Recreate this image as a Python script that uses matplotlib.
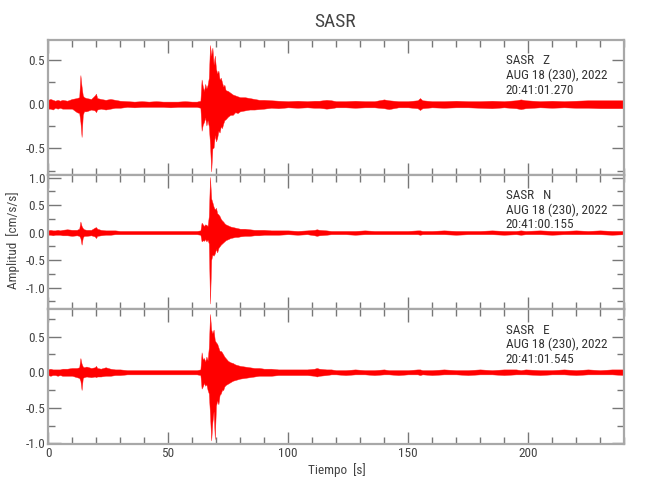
import matplotlib
matplotlib.use("Agg")
import matplotlib.pyplot as plt
from matplotlib import font_manager as fm
from matplotlib.ticker import MultipleLocator, FormatStrFormatter
import numpy as np

# ---------------- data ----------------
time_s = [0, 1, 2, 3, 4, 5, 6, 8, 10, 12,
          13, 13.5, 14, 14.5, 15, 16, 18, 19.5, 20, 20.5,
          22, 24, 26, 28, 30, 33, 36, 39, 42, 45,
          48, 51, 54, 57, 60, 62, 63.5, 64, 64.5, 65,
          65.5, 66, 66.5, 67, 67.5, 68, 68.5, 69, 69.5, 70,
          70.5, 71, 71.5, 72, 72.5, 73, 73.5, 74, 75, 76,
          77, 78, 79, 80, 82, 84, 86, 88, 90, 93,
          96, 100, 104, 108, 111, 112, 113, 116, 118, 120,
          124, 128, 132, 136, 140, 142, 146, 150, 154, 155,
          156, 160, 165, 170, 175, 180, 185, 190, 195, 197,
          199, 205, 210, 215, 220, 225, 230, 235, 240]

z_upper = [0.05, 0.06, 0.05, 0.04, 0.05, 0.04, 0.05, 0.04, 0.06, 0.07,
           0.08, 0.33, 0.20, 0.10, 0.08, 0.07, 0.06, 0.10, 0.12, 0.07,
           0.06, 0.05, 0.06, 0.05, 0.04, 0.035, 0.03, 0.035, 0.03, 0.035,
           0.03, 0.03, 0.03, 0.035, 0.03, 0.03, 0.04, 0.28, 0.20, 0.15,
           0.23, 0.18, 0.22, 0.30, 0.67, 0.55, 0.64, 0.45, 0.55, 0.40,
           0.35, 0.38, 0.28, 0.30, 0.25, 0.20, 0.22, 0.16, 0.15, 0.13,
           0.11, 0.10, 0.09, 0.08, 0.08, 0.07, 0.06, 0.05, 0.05, 0.045,
           0.04, 0.035, 0.04, 0.035, 0.04, 0.04, 0.04, 0.05, 0.045, 0.035,
           0.035, 0.04, 0.035, 0.035, 0.055, 0.045, 0.035, 0.035, 0.045, 0.07,
           0.045, 0.035, 0.035, 0.04, 0.035, 0.035, 0.04, 0.035, 0.045, 0.055,
           0.045, 0.035, 0.04, 0.035, 0.04, 0.045, 0.045, 0.045, 0.045]
z_lower = [-0.05, -0.05, -0.06, -0.04, -0.05, -0.04, -0.05, -0.05, -0.05, -0.09,
           -0.10, -0.20, -0.37, -0.12, -0.08, -0.08, -0.06, -0.07, -0.09, -0.06,
           -0.05, -0.06, -0.05, -0.04, -0.04, -0.03, -0.035, -0.03, -0.03, -0.03,
           -0.03, -0.035, -0.03, -0.03, -0.03, -0.03, -0.04, -0.30, -0.23, -0.20,
           -0.15, -0.24, -0.18, -0.25, -0.45, -0.76, -0.50, -0.49, -0.35, -0.42,
           -0.38, -0.30, -0.32, -0.25, -0.27, -0.22, -0.18, -0.17, -0.14, -0.12,
           -0.12, -0.09, -0.10, -0.08, -0.07, -0.06, -0.06, -0.055, -0.05, -0.04,
           -0.045, -0.035, -0.04, -0.035, -0.04, -0.04, -0.04, -0.05, -0.045, -0.035,
           -0.035, -0.04, -0.035, -0.035, -0.045, -0.055, -0.035, -0.035, -0.045, -0.065,
           -0.045, -0.035, -0.04, -0.035, -0.035, -0.04, -0.045, -0.035, -0.045, -0.055,
           -0.045, -0.035, -0.04, -0.035, -0.04, -0.04, -0.045, -0.045, -0.045]

n_upper = [0.04, 0.05, 0.04, 0.04, 0.05, 0.04, 0.05, 0.06, 0.05, 0.05,
           0.07, 0.20, 0.12, 0.08, 0.06, 0.05, 0.05, 0.09, 0.10, 0.07,
           0.05, 0.04, 0.04, 0.04, 0.03, 0.03, 0.03, 0.03, 0.03, 0.03,
           0.03, 0.03, 0.03, 0.03, 0.03, 0.03, 0.04, 0.18, 0.15, 0.12,
           0.15, 0.14, 0.12, 0.30, 1.01, 0.62, 0.55, 0.47, 0.42, 0.45,
           0.35, 0.33, 0.30, 0.25, 0.22, 0.20, 0.17, 0.15, 0.13, 0.11,
           0.10, 0.09, 0.08, 0.07, 0.07, 0.06, 0.05, 0.05, 0.05, 0.04,
           0.04, 0.04, 0.03, 0.04, 0.05, 0.06, 0.05, 0.04, 0.03, 0.03,
           0.03, 0.03, 0.04, 0.03, 0.03, 0.03, 0.03, 0.03, 0.04, 0.04,
           0.03, 0.03, 0.04, 0.03, 0.03, 0.03, 0.04, 0.03, 0.03, 0.04,
           0.03, 0.04, 0.03, 0.03, 0.04, 0.03, 0.04, 0.03, 0.03]
n_lower = [-0.04, -0.04, -0.05, -0.04, -0.04, -0.04, -0.05, -0.05, -0.06, -0.05,
           -0.06, -0.10, -0.22, -0.09, -0.06, -0.06, -0.05, -0.07, -0.10, -0.06,
           -0.05, -0.04, -0.04, -0.03, -0.03, -0.03, -0.03, -0.03, -0.03, -0.03,
           -0.03, -0.03, -0.03, -0.03, -0.03, -0.03, -0.04, -0.16, -0.14, -0.15,
           -0.12, -0.16, -0.13, -0.20, -1.29, -0.50, -0.40, -0.42, -0.38, -0.30,
           -0.36, -0.28, -0.25, -0.22, -0.20, -0.18, -0.16, -0.14, -0.12, -0.10,
           -0.09, -0.08, -0.08, -0.07, -0.06, -0.06, -0.05, -0.05, -0.04, -0.04,
           -0.04, -0.03, -0.04, -0.03, -0.05, -0.06, -0.05, -0.04, -0.03, -0.03,
           -0.03, -0.04, -0.03, -0.03, -0.03, -0.03, -0.03, -0.03, -0.03, -0.04,
           -0.03, -0.03, -0.03, -0.04, -0.03, -0.03, -0.03, -0.04, -0.03, -0.04,
           -0.03, -0.03, -0.04, -0.03, -0.03, -0.03, -0.03, -0.04, -0.03]

e_upper = [0.04, 0.05, 0.04, 0.04, 0.04, 0.04, 0.05, 0.05, 0.06, 0.06,
           0.07, 0.20, 0.12, 0.08, 0.07, 0.08, 0.06, 0.07, 0.09, 0.06,
           0.05, 0.07, 0.05, 0.04, 0.04, 0.03, 0.03, 0.03, 0.03, 0.03,
           0.03, 0.03, 0.03, 0.03, 0.03, 0.03, 0.04, 0.28, 0.18, 0.20,
           0.15, 0.22, 0.17, 0.35, 0.82, 0.60, 0.55, 0.60, 0.45, 0.42,
           0.40, 0.35, 0.30, 0.30, 0.28, 0.25, 0.22, 0.20, 0.16, 0.14,
           0.13, 0.11, 0.10, 0.09, 0.08, 0.07, 0.06, 0.06, 0.05, 0.05,
           0.04, 0.04, 0.04, 0.04, 0.05, 0.06, 0.05, 0.04, 0.04, 0.03,
           0.03, 0.04, 0.03, 0.03, 0.04, 0.03, 0.03, 0.03, 0.04, 0.04,
           0.03, 0.03, 0.04, 0.03, 0.03, 0.04, 0.03, 0.04, 0.04, 0.03,
           0.04, 0.03, 0.03, 0.04, 0.03, 0.04, 0.03, 0.04, 0.04]
e_lower = [-0.04, -0.05, -0.04, -0.04, -0.05, -0.04, -0.05, -0.05, -0.05, -0.07,
           -0.08, -0.12, -0.25, -0.08, -0.07, -0.06, -0.07, -0.06, -0.07, -0.06,
           -0.06, -0.05, -0.05, -0.04, -0.04, -0.03, -0.03, -0.03, -0.03, -0.03,
           -0.03, -0.03, -0.03, -0.03, -0.03, -0.03, -0.04, -0.23, -0.20, -0.15,
           -0.19, -0.17, -0.25, -0.30, -0.60, -0.96, -0.70, -0.55, -0.94, -0.47,
           -0.40, -0.45, -0.32, -0.30, -0.25, -0.25, -0.20, -0.18, -0.16, -0.14,
           -0.12, -0.11, -0.10, -0.09, -0.08, -0.07, -0.06, -0.05, -0.05, -0.05,
           -0.04, -0.04, -0.04, -0.04, -0.05, -0.06, -0.05, -0.04, -0.03, -0.03,
           -0.04, -0.03, -0.03, -0.04, -0.03, -0.03, -0.04, -0.03, -0.03, -0.04,
           -0.03, -0.04, -0.03, -0.03, -0.04, -0.03, -0.03, -0.04, -0.03, -0.03,
           -0.03, -0.04, -0.03, -0.03, -0.04, -0.03, -0.03, -0.03, -0.04]

components = ["Z", "N", "E"]
start_times = ["20:41:01.270", "20:41:00.155", "20:41:01.545"]
date_label = "AUG 18 (230), 2022"
station = "SASR"
y_limits = [(-0.795, 0.727), (-1.39, 1.056), (-1.01, 0.89)]
x_ticks = [0, 50, 100, 150, 200]

# ---------------- font ----------------
def pick_font(names):
    for n in names:
        try:
            fm.findfont(n, fallback_to_default=False)
            return n
        except Exception:
            continue
    return "DejaVu Sans"

font = pick_font(["Liberation Sans Narrow", "Roboto Condensed", "DejaVu Sans"])
plt.rcParams["font.family"] = [font, "DejaVu Sans"]

spine_c = "#a8a8a8"
tick_c = "#777777"
text_c = "#444444"

fig = plt.figure(figsize=(6.5, 5.0), dpi=100)
left, width = 48 / 650, 576 / 650
panels_px = [(40, 174.5), (174.5, 309), (309, 444)]

traces = [(z_upper, z_lower), (n_upper, n_lower), (e_upper, e_lower)]
t = np.array(time_s)
axes = []
for i, ((top, bot), (up, lo)) in enumerate(zip(panels_px, traces)):
    ax = fig.add_axes([left, (500 - bot) / 500, width, (bot - top) / 500])
    axes.append(ax)
    ax.fill_between(t, lo, up, color="#ff0000", linewidth=0.3,
                    edgecolor="#ff2020", zorder=2)
    ax.set_xlim(0, 240)
    ax.set_ylim(*y_limits[i])
    ax.xaxis.set_major_locator(MultipleLocator(50))
    ax.xaxis.set_minor_locator(MultipleLocator(10))
    ax.yaxis.set_major_locator(MultipleLocator(0.5))
    ax.yaxis.set_minor_locator(MultipleLocator(0.25))
    ax.yaxis.set_major_formatter(FormatStrFormatter("%.1f"))
    ax.tick_params(which="both", direction="in", top=True, right=True,
                   color=tick_c, labelcolor=text_c, labelsize=9.5, pad=2)
    ax.tick_params(which="major", length=9, width=1.0)
    ax.tick_params(which="minor", length=5, width=1.0)
    for s in ax.spines.values():
        s.set_color(spine_c)
        s.set_linewidth(1.6)
    if i < 2:
        ax.tick_params(labelbottom=False)
    ax.text(0.795, 1 - 21 / 134.5, f"{station}   {components[i]}",
            transform=ax.transAxes, ha="left", va="center",
            fontsize=9.5, color="#333333")
    ax.text(0.795, 1 - 35.5 / 134.5, date_label,
            transform=ax.transAxes, ha="left", va="center",
            fontsize=9.5, color="#333333")
    ax.text(0.795, 1 - 50 / 134.5, start_times[i],
            transform=ax.transAxes, ha="left", va="center",
            fontsize=9.5, color="#333333")

axes[2].set_xticks(x_ticks)
fig.text(335 / 650, 1 - 22 / 500, station, ha="center", va="center",
         fontsize=14, color=text_c)
fig.text(337 / 650, 1 - 470 / 500, "Tiempo  [s]", ha="center", va="center",
         fontsize=9.5, color=text_c)
fig.text(13 / 650, 1 - 240 / 500, "Amplitud  [cm/s/s]", ha="center",
         va="center", rotation=90, fontsize=9.5, color=text_c)

fig.savefig("out.png", dpi=100, facecolor="white")
